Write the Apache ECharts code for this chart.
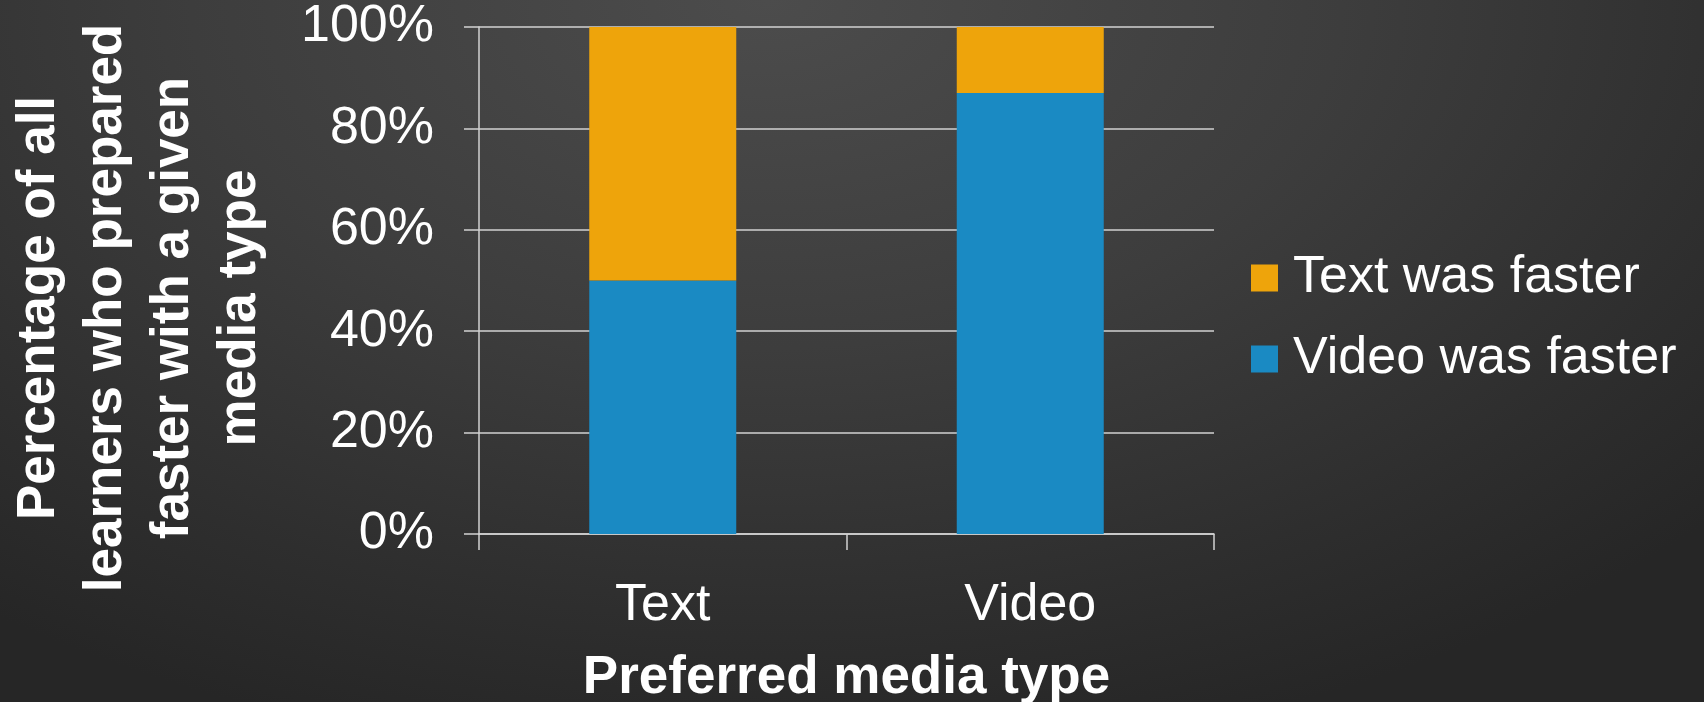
<!DOCTYPE html>
<html>
<head>
<meta charset="utf-8">
<script src="https://cdn.jsdelivr.net/npm/echarts@6/dist/echarts.min.js"></script>
<style>
html,body{margin:0;padding:0;width:1704px;height:702px;overflow:hidden;}
body{background: radial-gradient(ellipse 75% 110% at 45% 0%, #4c4c4c 0%, #3d3d3d 45%, #2e2e2e 80%, #262626 100%);}
#c{width:1704px;height:702px;}
</style>
</head>
<body>
<div id="c"></div>
<script>
const categories = ['Text', 'Video'];
const videoFaster = [50, 87];
const textFaster = [50, 13];
const yTicks = [0, 20, 40, 60, 80, 100];
const legendNames = ['Text was faster', 'Video was faster'];
const yTitleLines = ['Percentage of all', 'learners who prepared', 'faster with a given', 'media type'];
const xTitle = 'Preferred media type';

const chart = echarts.init(document.getElementById('c'), null, {renderer: 'canvas'});
const FONT = 'Liberation Sans, Arial, sans-serif';
const LINE = '#d2d2d2';
chart.setOption({
  backgroundColor: 'transparent',
  animation: false,
  grid: {left: 479, right: 490, top: 27, bottom: 168, containLabel: false, outerBoundsMode: 'none'},
  legend: {
    orient: 'vertical', left: 1246, top: 243,
    data: legendNames,
    itemWidth: 27, itemHeight: 27, itemGap: 21,
    icon: 'rect',
    textStyle: {color: '#ffffff', fontSize: 52, fontFamily: FONT, lineHeight: 60, padding: [0, 0, 0, 10]}
  },
  xAxis: {
    type: 'category', data: categories,
    axisLine: {show: true, lineStyle: {color: LINE, width: 1.5}},
    axisTick: {show: true, length: 16, alignWithLabel: false, lineStyle: {color: LINE, width: 1.5}},
    axisLabel: {color: '#ffffff', fontSize: 52, fontFamily: FONT, margin: 46},
    name: xTitle, nameLocation: 'middle', nameGap: 118,
    nameTextStyle: {color: '#ffffff', fontSize: 53, fontWeight: 'bold', fontFamily: FONT}
  },
  yAxis: {
    type: 'value', min: 0, max: 100, interval: 20,
    axisLine: {show: true, lineStyle: {color: LINE, width: 1.5}},
    axisTick: {show: true, length: 15, lineStyle: {color: LINE, width: 1.5}},
    splitLine: {show: true, lineStyle: {color: LINE, width: 1.5}},
    axisLabel: {color: '#ffffff', fontSize: 52, fontFamily: FONT, margin: 45, padding: [6, 0, 0, 0],
      formatter: v => yTicks.indexOf(v) >= 0 ? v + '%' : ''}
  },
  graphic: [{
    type: 'text', x: 140, y: 308, rotation: Math.PI / 2,
    style: {
      text: yTitleLines.join('\n'), fill: '#ffffff',
      font: 'bold 53px ' + FONT, lineHeight: 67,
      align: 'center', verticalAlign: 'middle'
    }
  }],
  series: [
    {name: legendNames[1], type: 'bar', stack: 'a', data: videoFaster, barCategoryGap: '60%',
      itemStyle: {color: '#1a8ac3'}},
    {name: legendNames[0], type: 'bar', stack: 'a', data: textFaster, barCategoryGap: '60%',
      itemStyle: {color: '#eea40b'}}
  ]
});
</script>
</body>
</html>
